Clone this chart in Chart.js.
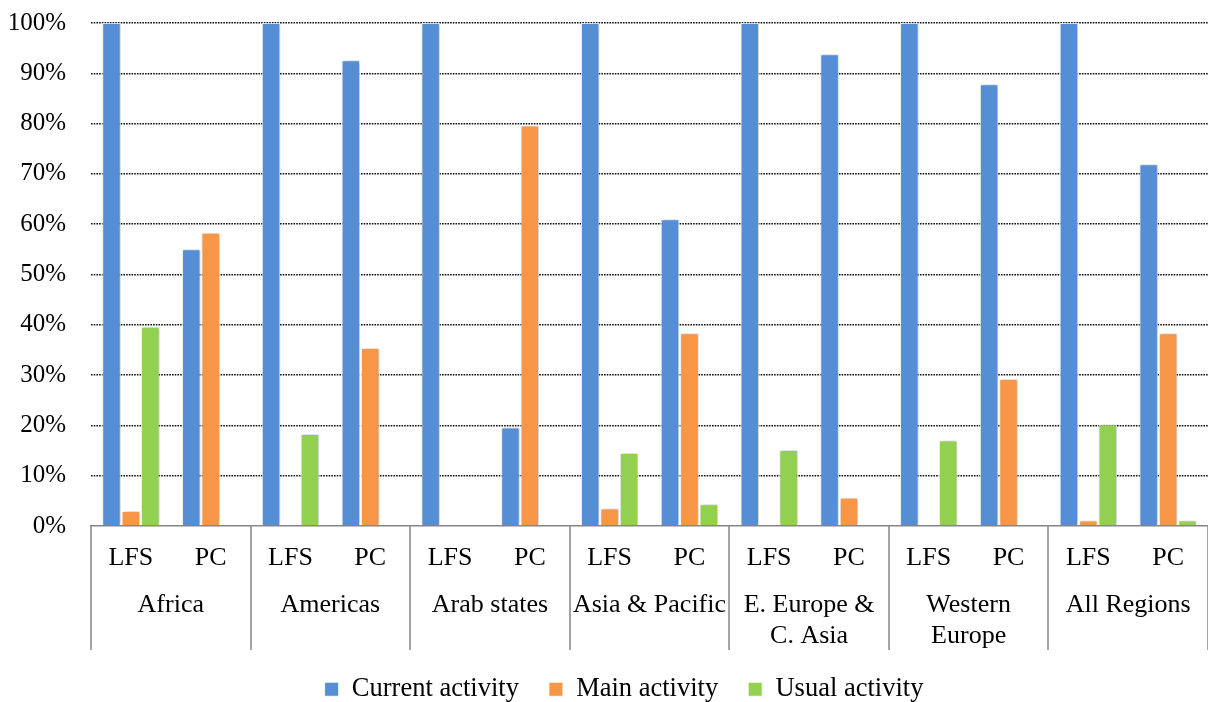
<!DOCTYPE html>
<html>
<head>
<meta charset="utf-8">
<script src="https://cdn.jsdelivr.net/npm/chart.js@4.4.1/dist/chart.umd.min.js"></script>
<style>
  html, body { margin: 0; padding: 0; background: #ffffff; }
  #wrap { width: 1208px; height: 702px; position: relative; }
</style>
</head>
<body>
<div id="wrap"><canvas id="chart"></canvas></div>
<script>
// Regions (outer axis level) and survey sources (inner axis level)
const regions = ['Africa', 'Americas', 'Arab states', 'Asia & Pacific',
                 ['E. Europe &', 'C. Asia'], ['Western', 'Europe'], 'All Regions'];
const sources = ['LFS', 'PC'];
const categories = regions.flatMap(() => sources);

// Share of surveys using each reference-period concept (%)
const currentActivity = [100, 55.0, 100, 92.6, 100, 19.6, 100, 61.0, 100, 93.8, 100, 87.8, 100, 71.9];
const mainActivity    = [3.0, 58.3, 0,   35.4, 0,   79.6, 3.5, 38.3, 0,   5.6,  0,   29.2, 1.1, 38.3];
const usualActivity   = [39.6, 0,   18.3, 0,   0,   0,    14.5, 4.3, 15.1, 0,   17.0, 0,   20.2, 1.1];

const seriesNames = ['Current activity', 'Main activity', 'Usual activity'];
const seriesColors = ['#558ED5', '#F79646', '#92D050'];

const yTickLabels = ['0%', '10%', '20%', '30%', '40%', '50%', '60%', '70%', '80%', '90%', '100%'];

const FONT_FAMILY = "'Times New Roman', 'Liberation Serif', serif";
const AXIS_FONT = 26;
const TICK_FONT = 25;
const LEGEND_FONT = 26.5;
const AXIS_GREY = '#868686';

// Soft drop shadow behind the bars
const barShadow = {
  id: 'barShadow',
  beforeDatasetsDraw(chart) {
    const ctx = chart.ctx;
    ctx.save();
    ctx.shadowColor = 'rgba(0,0,0,0.28)';
    ctx.shadowBlur = 4;
    ctx.shadowOffsetX = 1;
    ctx.shadowOffsetY = 0;
  },
  afterDatasetsDraw(chart) {
    chart.ctx.restore();
  }
};

// Centre the legend row a little to the right of the canvas centre
const legendShift = {
  id: 'legendShift',
  afterLayout(chart) {
    if (chart.legend) chart.legend.left += 40;
  }
};

// Second axis level: region names and the separators between region groups
const groupAxis = {
  id: 'groupAxis',
  afterDraw(chart) {
    const x = chart.scales.x;
    const ctx = chart.ctx;
    const step = x.getPixelForValue(1) - x.getPixelForValue(0);
    const axisY = x.top;
    const sepBottom = axisY + 124;
    const per = sources.length;

    ctx.save();
    ctx.strokeStyle = AXIS_GREY;
    ctx.lineWidth = 1.5;
    ctx.beginPath();
    for (let g = 0; g <= regions.length; g++) {
      const px = Math.round(x.getPixelForValue(Math.min(g * per, categories.length - 1)) +
        (g * per >= categories.length ? step / 2 : -step / 2));
      ctx.moveTo(px, axisY);
      ctx.lineTo(px, sepBottom);
    }
    ctx.stroke();

    ctx.fillStyle = '#000000';
    ctx.font = AXIS_FONT + 'px ' + FONT_FAMILY;
    ctx.textAlign = 'center';
    ctx.textBaseline = 'middle';
    const lineH = 31;
    regions.forEach((name, g) => {
      const cx = (x.getPixelForValue(g * per) + x.getPixelForValue(g * per + per - 1)) / 2;
      const lines = Array.isArray(name) ? name : [name];
      lines.forEach((ln, i) => ctx.fillText(ln, cx, axisY + 79 + i * lineH));
    });
    ctx.restore();
  }
};

const ctx = document.getElementById('chart');
new Chart(ctx, {
  type: 'bar',
  data: {
    labels: categories,
    datasets: [currentActivity, mainActivity, usualActivity].map((vals, i) => ({
      label: seriesNames[i],
      data: vals,
      backgroundColor: seriesColors[i],
      borderColor: 'rgba(255,255,255,0.85)',
      borderWidth: 1,
      categoryPercentage: 0.73,
      barPercentage: 0.95
    }))
  },
  options: {
    responsive: true,
    maintainAspectRatio: false,
    animation: false,
    layout: { padding: { top: 23, left: 0, right: 0, bottom: 0 } },
    plugins: {
      tooltip: { enabled: false },
      legend: {
        position: 'bottom',
        maxHeight: 56,
        labels: {
          boxWidth: 14,
          boxHeight: 14,
          padding: 30,
          color: '#000000',
          font: { family: FONT_FAMILY, size: LEGEND_FONT }
        }
      }
    },
    scales: {
      x: {
        grid: { display: false },
        border: { display: true, color: AXIS_GREY, width: 1.6 },
        ticks: {
          color: '#000000',
          padding: 9,
          maxRotation: 0,
          autoSkip: false,
          font: { family: FONT_FAMILY, size: AXIS_FONT }
        },
        afterFit(scale) { scale.height = 120; }
      },
      y: {
        min: 0,
        max: 100,
        grid: {
          drawTicks: true,
          tickLength: 25,
          tickColor: 'rgba(0,0,0,0)',
          lineWidth: 1.5,
          color: c => (c.tick && c.tick.value === 0) ? 'rgba(0,0,0,0)' : '#111111'
        },
        border: { display: false, dash: [1.6, 1.1] },
        ticks: {
          stepSize: 10,
          padding: 0,
          color: '#000000',
          font: { family: FONT_FAMILY, size: TICK_FONT },
          callback: (v, i) => yTickLabels[i]
        },
        afterFit(scale) { scale.width = 91; }
      }
    }
  },
  plugins: [barShadow, legendShift, groupAxis]
});
</script>
</body>
</html>
